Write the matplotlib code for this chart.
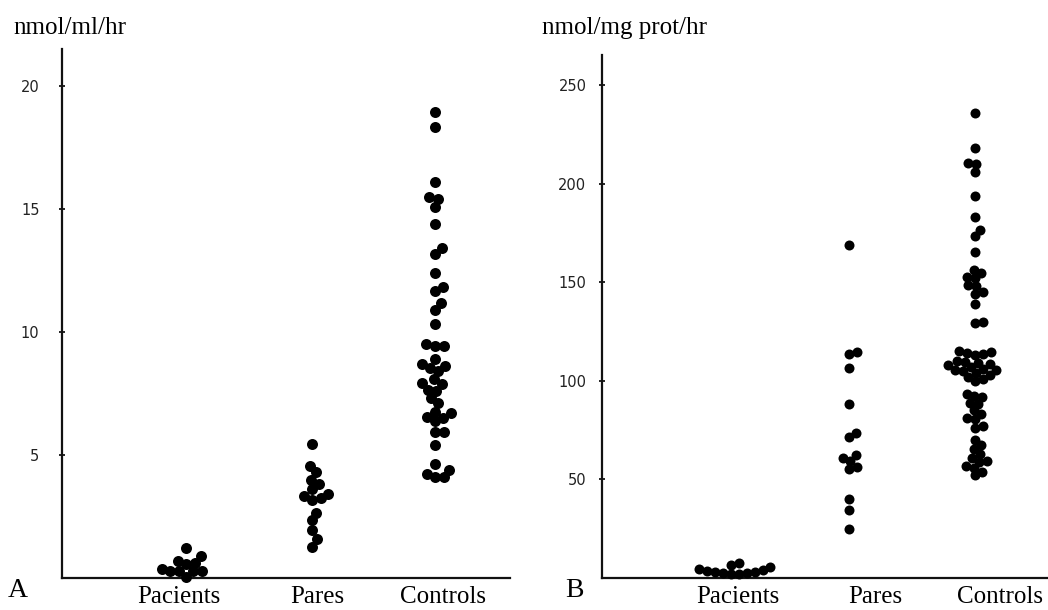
"""Dot plots of enzyme activity: patients, relatives (pares) and controls."""
import numpy as np
import matplotlib; matplotlib.use("Agg")
import matplotlib.pyplot as plt

groups = ["Pacients", "Pares", "Controls"]

# panel A, nmol/ml/hr
a_pacients = [1.2, 0.88, 0.7, 0.62, 0.55, 0.35, 0.3, 0.28, 0.28, 0.27, 0.06]
a_pares = [5.46, 4.55, 4.3, 4.0, 3.83, 3.62, 3.41, 3.32, 3.24, 3.16, 2.66,
           2.34, 1.97, 1.57, 1.27]
a_controls = [18.95, 18.35, 16.1, 15.5, 15.42, 15.08, 14.4, 13.4, 13.18, 12.4,
              11.82, 11.66, 11.17, 10.9, 10.32, 9.52, 9.43, 9.43, 8.89, 8.69,
              8.6, 8.54, 8.4, 8.07, 7.92, 7.87, 7.66, 7.58, 7.31, 7.1, 6.76,
              6.69, 6.56, 6.52, 6.39, 5.94, 5.94, 5.41, 4.64, 4.38, 4.23, 4.1, 4.1]

# panel B, nmol/mg prot/hr
b_pacients = [7.5, 6.5, 5.5, 4.5, 4.0, 3.5, 3.0, 3.0, 2.5, 2.5, 2.0, 2.0]
b_pares = [169, 114.5, 113.5, 106.5, 88.5, 73.5, 71.5, 62.5, 61, 59.5, 56.5,
           55.5, 40, 34.5, 25]
b_controls = [236, 218, 210.5, 210, 206, 194, 183, 176.5, 173.5, 165.5, 156,
              154.5, 152.5, 152, 148.5, 148, 145, 144, 139, 130, 129.5,
              115, 114.5, 114, 113.5, 113, 110, 109.5, 109, 108.5, 108, 107,
              106, 105.5, 105.5, 105, 104, 103, 102, 101, 100,
              93.5, 92.5, 92, 89, 88.5, 85, 83, 81, 80.5, 77, 76,
              70, 67.5, 65.5, 63, 61, 59.5, 59, 57, 56, 54, 52]

W, H = 1048, 610
fig = plt.figure(figsize=(W / 100, H / 100), dpi=100)
serif = ["Liberation Serif", "DejaVu Serif"]


def swarm_x(ax, vals, xc, d):
    """simple beeswarm: x positions (data) so dots of spacing d px don't pile up"""
    tr = ax.transData
    ys = tr.transform(np.column_stack([np.full(len(vals), xc), vals]))[:, 1]
    x0 = tr.transform((xc, 0))[0]
    xs = np.zeros(len(vals))
    placed = []
    for i in np.argsort(ys):
        y = ys[i]
        near = [(px, py) for px, py in placed if abs(py - y) < d]
        cands = [0.0]
        for px, py in near:
            dx = np.sqrt(d * d - (py - y) ** 2)
            cands += [px + dx, px - dx]
        cands.sort(key=lambda c: (abs(c), -c))
        for c in cands:
            if all((c - px) ** 2 + (y - py) ** 2 >= d * d - 1e-6 for px, py in near):
                xs[i] = c
                break
        placed.append((xs[i], y))
    return tr.inverted().transform(np.column_stack([x0 + xs, ys]))[:, 0]


def panel(rect, xmax, ytop, yticks, data, cols, labpos, dot, pad):
    ax = fig.add_axes(rect)
    ax.set_xlim(0, xmax)
    ax.set_ylim(0, ytop)
    for s in ("top", "right"):
        ax.spines[s].set_visible(False)
    for s in ("left", "bottom"):
        ax.spines[s].set_linewidth(1.6)
        ax.spines[s].set_color("#111")
    ax.set_yticks(yticks)
    ax.tick_params(axis="y", direction="inout", length=4, width=1.2,
                   pad=pad, labelsize=10.5, labelcolor="#222")
    ax.set_xticks(labpos, groups, fontfamily=serif, fontsize=18)
    ax.tick_params(axis="x", length=0, pad=5.5)
    for vals, xc in zip(data, cols):
        xs = swarm_x(ax, vals, xc, dot * 0.8)
        ax.scatter(xs, vals, s=(dot * 0.72) ** 2, color="black", lw=0,
                   zorder=3, clip_on=False)
    return ax


panel([62 / W, 1 - 578 / H, 448 / W, 529 / H], 448, 21.5, [5, 10, 15, 20],
      [a_pacients, a_pares, a_controls], [124, 250, 373], [117, 255, 381],
      11, 14.2)
panel([602 / W, 1 - 578 / H, 446 / W, 523 / H], 446, 265.3, [50, 100, 150, 200, 250],
      [b_pacients, b_pares, b_controls], [129, 247, 373], [136, 273, 398],
      10, 9.2)

fig.text(13 / W, 1 - 34 / H, "nmol/ml/hr", family=serif, fontsize=18, va="baseline")
fig.text(542 / W, 1 - 34 / H, "nmol/mg prot/hr", family=serif, fontsize=18, va="baseline")
fig.text(8 / W, 1 - 597 / H, "A", family=serif, fontsize=20, va="baseline")
fig.text(565 / W, 1 - 597 / H, "B", family=serif, fontsize=20, va="baseline")

fig.savefig("out.png", dpi=100, facecolor="white")
